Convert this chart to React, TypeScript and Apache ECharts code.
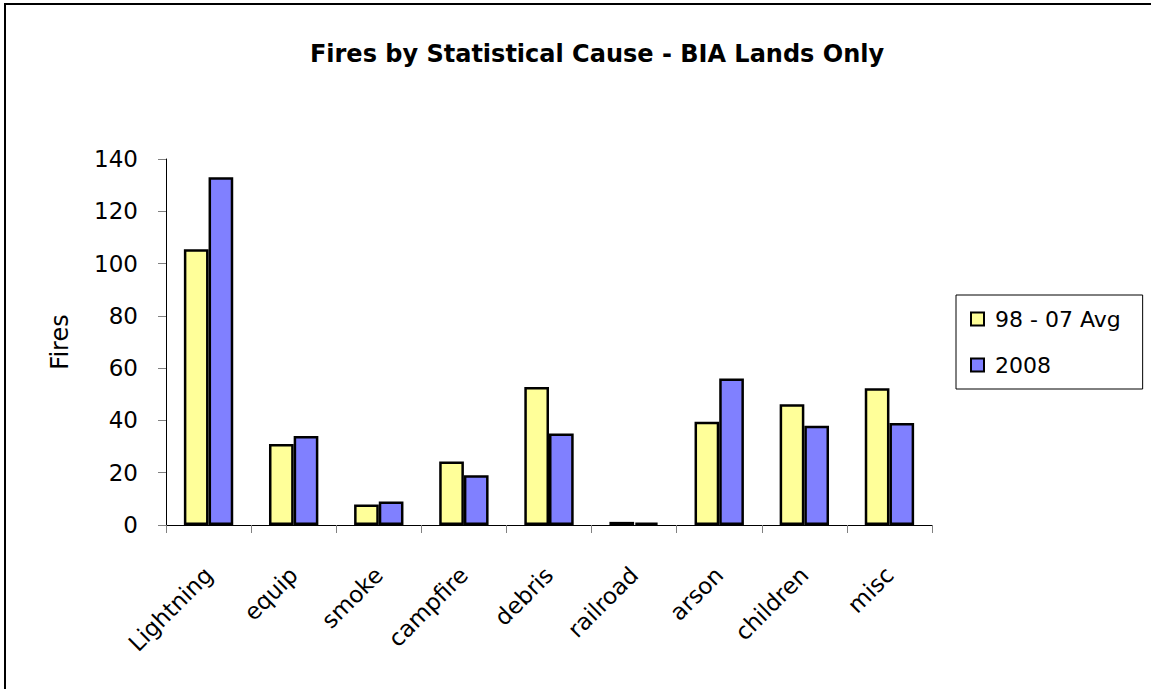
import React, { useEffect, useRef } from "react";
import * as echarts from "echarts";

const categories = ["Lightning", "equip", "smoke", "campfire", "debris", "railroad", "arson", "children", "misc"];
const avg9807 = [105.5, 31, 7.8, 24.3, 52.8, 1.2, 39.5, 46.2, 52.3];
const y2008 = [133, 34, 9, 19, 35, 0.9, 56, 38, 39];
const seriesNames = ["98 - 07 Avg", "2008"];
const yTicks = { min: 0, max: 140, interval: 20 };

const FONT = "'DejaVu Sans', sans-serif";

export default function App() {
  const ref = useRef<HTMLDivElement>(null);
  useEffect(() => {
    if (!ref.current) return;
    const chart = echarts.init(ref.current, null, { renderer: "svg" });
    chart.setOption({
      animation: false,
      backgroundColor: "#ffffff",
      textStyle: { fontFamily: FONT },
      title: {
        text: "Fires by Statistical Cause - BIA Lands Only",
        left: 592,
        textAlign: "center",
        top: 37,
        textStyle: { fontFamily: FONT, fontSize: 24, fontWeight: "bold", color: "#000" },
      },
      graphic: [
        {
          type: "rect",
          shape: { x: 5, y: 4, width: 1300, height: 900 },
          style: { fill: "none", stroke: "#000", lineWidth: 2 },
          silent: true,
        },
      ],
      legend: {
        orient: "vertical",
        left: 956,
        top: 295,
        padding: [13, 22, 13, 14],
        borderColor: "#000",
        borderWidth: 1,
        itemWidth: 13,
        itemHeight: 13,
        itemGap: 24,
        icon: "rect",
        textStyle: { fontFamily: FONT, fontSize: 22, color: "#000", padding: [0, 0, 0, 6] },
        data: seriesNames,
      },
      grid: { left: 166, right: 219, top: 159, bottom: 164, containLabel: false },
      xAxis: {
        type: "category",
        data: categories,
        axisLine: { lineStyle: { color: "#000", width: 1 } },
        axisTick: { show: true, alignWithLabel: false, length: 8, lineStyle: { color: "#808080" } },
        axisLabel: { rotate: 45, margin: 46, fontFamily: FONT, fontSize: 23, color: "#000" },
      },
      yAxis: {
        type: "value",
        min: yTicks.min,
        max: yTicks.max,
        interval: yTicks.interval,
        name: "Fires",
        nameLocation: "middle",
        nameGap: 94,
        nameRotate: 90,
        nameTextStyle: { fontFamily: FONT, fontSize: 24, color: "#000" },
        axisLine: { show: true, lineStyle: { color: "#000", width: 1 } },
        axisTick: { show: true, length: 8, lineStyle: { color: "#808080" } },
        splitLine: { show: false },
        axisLabel: { margin: 28, fontFamily: FONT, fontSize: 23, color: "#000" },
      },
      series: [
        {
          name: seriesNames[0],
          type: "bar",
          data: avg9807,
          barGap: "0%",
          barCategoryGap: "42%",
          itemStyle: { color: "#FFFF99", borderColor: "#000", borderWidth: 2.5 },
        },
        {
          name: seriesNames[1],
          type: "bar",
          data: y2008,
          barGap: "0%",
          barCategoryGap: "42%",
          itemStyle: { color: "#8080FF", borderColor: "#000", borderWidth: 2.5 },
        },
      ],
    });
    return () => chart.dispose();
  }, []);
  return (
    <div
      ref={ref}
      style={{ position: "absolute", left: 0, top: 0, width: 1151, height: 689 }}
    />
  );
}
